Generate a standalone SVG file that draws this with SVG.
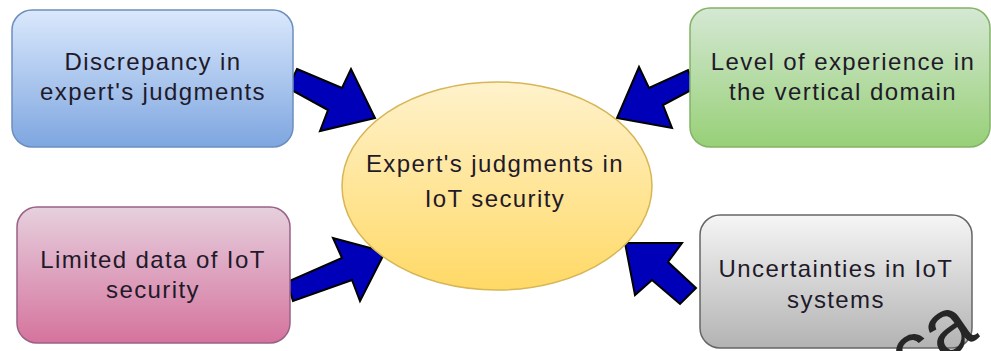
<svg xmlns="http://www.w3.org/2000/svg" width="991" height="351" viewBox="0 0 991 351">
<defs>
<linearGradient id="gBlue" x1="0" y1="0" x2="0" y2="1"><stop offset="0" stop-color="#dae8fc"/><stop offset="1" stop-color="#7ea6e0"/></linearGradient>
<linearGradient id="gGreen" x1="0" y1="0" x2="0" y2="1"><stop offset="0" stop-color="#d5e8d4"/><stop offset="1" stop-color="#97d077"/></linearGradient>
<linearGradient id="gPink" x1="0" y1="0" x2="0" y2="1"><stop offset="0" stop-color="#e6d0de"/><stop offset="1" stop-color="#d5739d"/></linearGradient>
<linearGradient id="gGray" x1="0" y1="0" x2="0" y2="1"><stop offset="0" stop-color="#f5f5f5"/><stop offset="1" stop-color="#b3b3b3"/></linearGradient>
<linearGradient id="gYellow" x1="0" y1="0" x2="0" y2="1"><stop offset="0" stop-color="#fff2cc"/><stop offset="1" stop-color="#ffd966"/></linearGradient>
</defs>
<style>
text{font-family:"Liberation Sans",Arial,sans-serif;font-size:24px;fill:#1f1a2a;text-anchor:middle;letter-spacing:1.4px}
.arrow{fill:#0000b8;stroke:#000000;stroke-width:2;stroke-linejoin:miter}
.wm{font-size:80px;fill:#262626;text-anchor:start;letter-spacing:0}
</style>
<rect width="991" height="351" fill="#ffffff"/>
<g id="connectors">
<polygon class="arrow" points="297,69 342,88 351,69 375,118 320,131 328,110 288,88"/>
<polygon class="arrow" points="688,70 695,88 663,105 672,128 617,118 639,67 649,88"/>
<polygon class="arrow" points="287,282 293,301 352,280 360,301 385,252 333,238 342,258"/>
<polygon class="arrow" points="625,243 682,243 668,262 696,288 680,304 652,280 635,295"/>
</g>
<g id="node-center">
<ellipse cx="497" cy="186" rx="155" ry="104" fill="url(#gYellow)" stroke="#d6b656" stroke-width="1.5"/>
<text x="495" y="172">Expert's judgments in</text>
<text x="495" y="207">IoT security</text>
</g>
<g id="node-discrepancy">
<rect x="12" y="10" width="281" height="137" rx="20" fill="url(#gBlue)" stroke="#6c8ebf" stroke-width="1.5"/>
<text x="153" y="70">Discrepancy in</text>
<text x="153" y="100">expert's judgments</text>
</g>
<g id="node-experience">
<rect x="690" y="8" width="300" height="139" rx="20" fill="url(#gGreen)" stroke="#82b366" stroke-width="1.5"/>
<text x="843" y="70">Level of experience in</text>
<text x="843" y="100">the vertical domain</text>
</g>
<g id="node-limited">
<rect x="17" y="207" width="273" height="136" rx="20" fill="url(#gPink)" stroke="#996185" stroke-width="1.5"/>
<text x="153" y="268">Limited data of IoT</text>
<text x="153" y="298">security</text>
</g>
<g id="node-uncertainties">
<rect x="700" y="215" width="272" height="133" rx="20" fill="url(#gGray)" stroke="#666666" stroke-width="1.5"/>
<text x="836" y="277">Uncertainties in IoT</text>
<text x="836" y="308">systems</text>
</g>
<text class="wm" x="911" y="385" transform="rotate(-35 911 385)">ca</text>
</svg>
